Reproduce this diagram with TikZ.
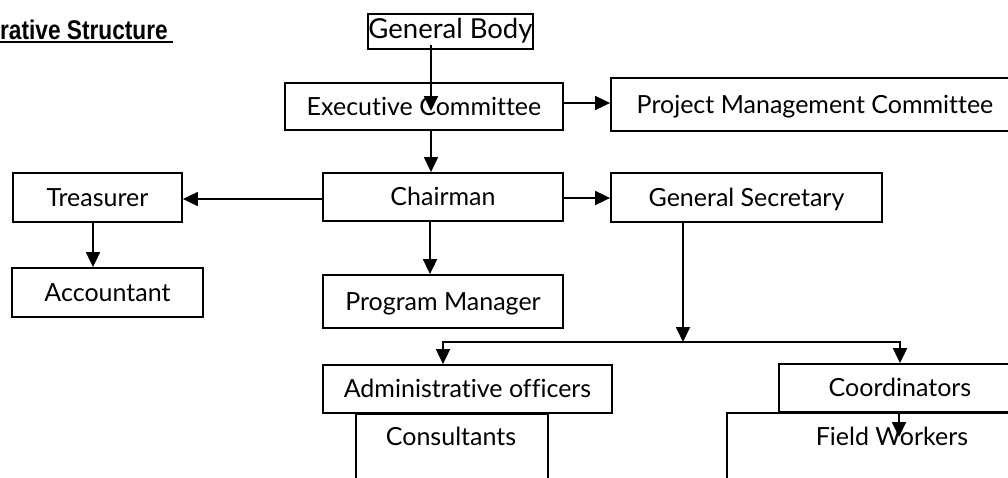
\documentclass[tikz,border=0pt]{standalone}
\usepackage{fontspec}
\setmainfont{Lato}[Ligatures=NoCommon]
\newfontfamily\titlefont{Liberation Sans}
\usetikzlibrary{arrows.meta}
\begin{document}
\begin{tikzpicture}[x=1pt,y=-1pt,
  lbl/.style={font=\fontsize{25}{30}\selectfont, text height=23.9pt, text depth=6pt},
  box/.style={draw, line width=1.8pt, fill=white, inner sep=0pt, lbl},
  txt/.style={inner sep=0pt, lbl},
  arr/.style={line width=1.8pt, -{Triangle[length=15pt,width=14pt]}},
  ln/.style={line width=1.8pt}]
\useasboundingbox (0,0) rectangle (1008,477);
\clip (0,0) rectangle (1008,477);
% title
\node[anchor=base west, inner sep=0pt, font=\titlefont\bfseries\fontsize{27}{31}\selectfont, xscale=0.84] (title) at (0,39) {rative Structure};
\draw[line width=2.2pt] ([yshift=-3pt]title.base west) -- ([yshift=-3pt,xshift=5pt]title.base east);
% boxes
\node[box, minimum width=165pt, minimum height=35pt, font=\fontsize{27.5}{32}\selectfont, text height=20.7pt, text depth=6pt] (gb) at (450.5,31.5) {General Body};
\node[box, minimum width=278pt, minimum height=47pt] (exec) at (424,106.5) {Executive Committee};
\node[box, minimum width=408pt, minimum height=53pt] (pmc) at (815,104.5) {Project Management Committee};
\node[box, minimum width=169pt, minimum height=49pt] (treas) at (97.5,197.5) {Treasurer};
\node[box, minimum width=240pt, minimum height=48pt] (chair) at (443,197) {Chairman};
\node[box, minimum width=271pt, minimum height=49pt] (gs) at (746.5,197.5) {General Secretary};
\node[box, minimum width=191pt, minimum height=49pt] (acc) at (107.5,292.5) {Accountant};
\node[box, minimum width=240pt, minimum height=53pt] (pm) at (443,301.5) {Program Manager};
\node[box, minimum width=289pt, minimum height=48pt] (admin) at (467.5,389) {Administrative officers};
\node[box, minimum width=192pt, minimum height=80pt, anchor=north west] (cons) at (355,413) {};
\node[txt] (conslbl) at (451,437) {Consultants};
\node[box, minimum width=242pt, minimum height=48pt] (coord) at (900,388) {Coordinators};
\node[box, minimum width=340pt, minimum height=80pt, anchor=north west] (fw) at (726,412) {};
\node[txt] (fwlbl) at (892,437) {Field Workers};
% coordinates
\coordinate (g1) at (431,45);
\coordinate (g2) at (431,111);
\coordinate (e1) at (0,103);
\coordinate (c1) at (0,199);
\coordinate (c2) at (0,198);
\coordinate (t1) at (93,0);
\coordinate (p1) at (430,0);
\coordinate (j) at (683,342);
\coordinate (ja) at (443,342);
\coordinate (jb) at (900,342);
\coordinate (fwt) at (899,437);
% connectors
\draw[arr] (g1) -- (g2);
\draw[arr] (exec.south -| g1) -- (chair.north -| g1);
\draw[arr] (exec.east |- e1) -- (pmc.west |- e1);
\draw[arr] (chair.west |- c1) -- (treas.east |- c1);
\draw[arr] (chair.east |- c2) -- (gs.west |- c2);
\draw[arr] (treas.south -| t1) -- (acc.north -| t1);
\draw[arr] (chair.south -| p1) -- (pm.north -| p1);
\draw[arr] (gs.south -| j) -- (j);
\draw[arr] (j) -- (ja) -- (admin.north -| ja);
\draw[arr] (j) -- (jb) -- (coord.north -| jb);
\draw[arr] (coord.south -| fwt) -- (fwt);
\end{tikzpicture}
\end{document}
